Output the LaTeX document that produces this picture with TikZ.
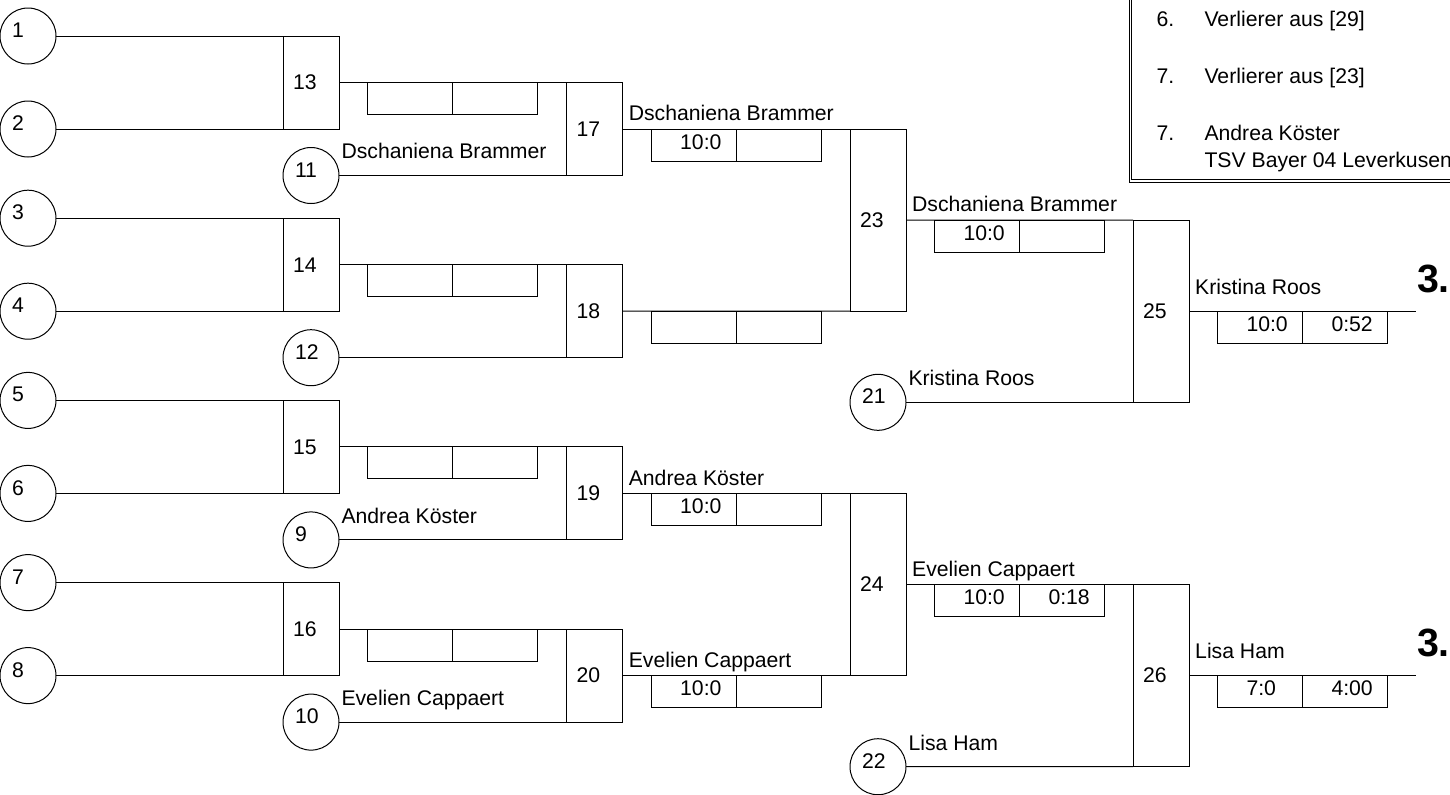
\documentclass[tikz,border=0pt]{standalone}
\usepackage{fontspec}
\setmainfont{Liberation Sans}
\usetikzlibrary{positioning,calc}

\begin{document}
\begin{tikzpicture}[
    x=0.5pt, y=-0.5pt,
    line width=0.5pt,
    font=\fontsize{10.6}{12.7}\selectfont,
    slot/.style={circle, draw=black, minimum size=28pt, inner sep=0pt, outer sep=0pt, text width=16pt, align=left, text depth=5.8pt},
    match/.style={rectangle, draw=black, minimum width=28pt, minimum height=46.5pt, inner sep=0pt, outer sep=0pt, text width=18pt, align=left},
    bigmatch/.style={match, minimum height=91.1pt},
    score/.style={rectangle, draw=black, minimum width=42.5pt, minimum height=16pt, inner sep=0pt, outer sep=0pt, text width=13.5pt, align=left, text depth=3.4pt},
    player/.style={anchor=base west, inner sep=0pt},
    rank/.style={anchor=south west, inner sep=0pt, font=\bfseries\fontsize{19.7}{23}\selectfont}
]
\useasboundingbox (0,0) rectangle (1450,794);
\clip (0,0) rectangle (1450,794);

% ============== ROUND 1: SLOTS 1-8, MATCHES 13-16 ==============
\node[slot] (slot1) at (28,36) {1};
\node[slot] (slot2) at (28,129) {2};
\node[slot] (slot3) at (28,218.2) {3};
\node[slot] (slot4) at (28,311.2) {4};
\node[slot] (slot5) at (28,400.4) {5};
\node[slot] (slot6) at (28,493.4) {6};
\node[slot] (slot7) at (28,582.6) {7};
\node[slot] (slot8) at (28,675.6) {8};

\node[match] (match13) at (311,82.5) {13};
\node[match] (match14) at (311,264.7) {14};
\node[match] (match15) at (311,446.9) {15};
\node[match] (match16) at (311,629.1) {16};

% ============== ROUND 2: SLOTS 9-12, MATCHES 17-20 ==============
\node[slot] (slot11) at (311,175.5) {11};
\node[slot] (slot12) at (311,357.7) {12};
\node[slot] (slot9) at (311,539.9) {9};
\node[slot] (slot10) at (311,722.1) {10};

\node[match] (match17) at (594.7,129) {17};
\node[match] (match18) at (594.7,311.2) {18};
\node[match] (match19) at (594.7,493.4) {19};
\node[match] (match20) at (594.7,675.6) {20};

% ============== ROUND 3: MATCHES 23-24 ==============
\node[bigmatch] (match23) at (878,220.1) {23};
\node[bigmatch] (match24) at (878,584.5) {24};

% ============== ROUND 4: SLOTS 21-22, MATCHES 25-26 ==============
\node[slot] (slot21) at (878,402.3) {21};
\node[slot] (slot22) at (878,766.7) {22};

\node[bigmatch] (match25) at (1161,311.2) {25};
\node[bigmatch] (match26) at (1161,675.6) {26};

\coordinate (end25) at (1416,311.2);
\coordinate (end26) at (1416,675.6);

% ============== SCORE CELLS ==============
\node[score, anchor=north west] (score13a) at ($(match13.east)+(28.5,0)$) {};
\node[score, right=0pt of score13a] (score13b) {};
\node[score, anchor=north west] (score14a) at ($(match14.east)+(28.5,0)$) {};
\node[score, right=0pt of score14a] (score14b) {};
\node[score, anchor=north west] (score15a) at ($(match15.east)+(28.5,0)$) {};
\node[score, right=0pt of score15a] (score15b) {};
\node[score, anchor=north west] (score16a) at ($(match16.east)+(28.5,0)$) {};
\node[score, right=0pt of score16a] (score16b) {};

\node[score, anchor=north west] (score17a) at ($(match17.east)+(28.5,0)$) {10:0};
\node[score, right=0pt of score17a] (score17b) {};
\node[score, anchor=north west] (score18a) at ($(match18.east)+(28.5,0)$) {};
\node[score, right=0pt of score18a] (score18b) {};
\node[score, anchor=north west] (score19a) at ($(match19.east)+(28.5,0)$) {10:0};
\node[score, right=0pt of score19a] (score19b) {};
\node[score, anchor=north west] (score20a) at ($(match20.east)+(28.5,0)$) {10:0};
\node[score, right=0pt of score20a] (score20b) {};

\node[score, anchor=north west] (score23a) at ($(match23.east)+(28.5,0)$) {10:0};
\node[score, right=0pt of score23a] (score23b) {};
\node[score, anchor=north west] (score24a) at ($(match24.east)+(28.5,0)$) {10:0};
\node[score, right=0pt of score24a] (score24b) {0:18};

\node[score, anchor=north west] (score25a) at ($(match25.east)+(28.5,0)$) {10:0};
\node[score, right=0pt of score25a] (score25b) {0:52};
\node[score, anchor=north west] (score26a) at ($(match26.east)+(28.5,0)$) {7:0};
\node[score, right=0pt of score26a] (score26b) {4:00};

% ============== PLAYER NAMES ==============
\node[player] (lbl11) at ($(slot11.east)+(2,-16.7)$) {Dschaniena Brammer};
\node[player] (lbl9) at ($(slot9.east)+(2,-16.7)$) {Andrea Köster};
\node[player] (lbl10) at ($(slot10.east)+(2,-16.7)$) {Evelien Cappaert};
\node[player] (lbl21) at ($(slot21.east)+(2,-16.7)$) {Kristina Roos};
\node[player] (lbl22) at ($(slot22.east)+(2,-16.7)$) {Lisa Ham};

\node[player] (lbl17) at ($(match17.east)+(5.6,-8.3)$) {Dschaniena Brammer};
\node[player] (lbl19) at ($(match19.east)+(5.6,-8.3)$) {Andrea Köster};
\node[player] (lbl20) at ($(match20.east)+(5.6,-8.3)$) {Evelien Cappaert};
\node[player] (lbl23) at ($(match23.east)+(5.6,-8.3)$) {Dschaniena Brammer};
\node[player] (lbl24) at ($(match24.east)+(5.6,-8.3)$) {Evelien Cappaert};

\node[player] (lbl25) at ($(match25.east)+(5.7,-16.7)$) {Kristina Roos};
\node[player] (lbl26) at ($(match26.east)+(5.7,-16.7)$) {Lisa Ham};

\node[rank] (rank25) at ($(end25)+(0.5,-17.9)$) {3.};
\node[rank] (rank26) at ($(end26)+(0.5,-17.9)$) {3.};

% ============== LEGEND ==============
\draw[double, double distance=0.75pt] (1130.25,-10) rectangle (1470,180.75);
\node[player] (leg6) at (1156,26.7) {6.};
\node[player] (leg6txt) at (1204,26.7) {Verlierer aus [29]};
\node[player] (leg7) at (1156,83.3) {7.};
\node[player] (leg7txt) at (1204,83.3) {Verlierer aus [23]};
\node[player] (leg7b) at (1156,140) {7.};
\node[player] (leg7bname) at (1204,140) {Andrea Köster};
\node[player] (leg7bclub) at (1204,167.5) {TSV Bayer 04 Leverkusen};

% ============== CONNECTIONS ==============

% Round 1
\draw (slot1) -- (match13.north west);
\draw (slot2) -- (match13.south west);
\draw (slot3) -- (match14.north west);
\draw (slot4) -- (match14.south west);
\draw (slot5) -- (match15.north west);
\draw (slot6) -- (match15.south west);
\draw (slot7) -- (match16.north west);
\draw (slot8) -- (match16.south west);

% Round 2
\draw (match13.east) -- (match17.north west);
\draw (slot11) -- (match17.south west);
\draw (match14.east) -- (match18.north west);
\draw (slot12) -- (match18.south west);
\draw (match15.east) -- (match19.north west);
\draw (slot9) -- (match19.south west);
\draw (match16.east) -- (match20.north west);
\draw (slot10) -- (match20.south west);

% Round 3
\draw (match17.east) -- (match23.north west);
\draw (match18.east) -- (match23.south west);
\draw (match19.east) -- (match24.north west);
\draw (match20.east) -- (match24.south west);

% Round 4
\draw (match23.east) -- (match25.north west);
\draw (slot21) -- (match25.south west);
\draw (match24.east) -- (match26.north west);
\draw (slot22) -- (match26.south west);

% Places
\draw (match25.east) -- (end25);
\draw (match26.east) -- (end26);

\end{tikzpicture}
\end{document}
